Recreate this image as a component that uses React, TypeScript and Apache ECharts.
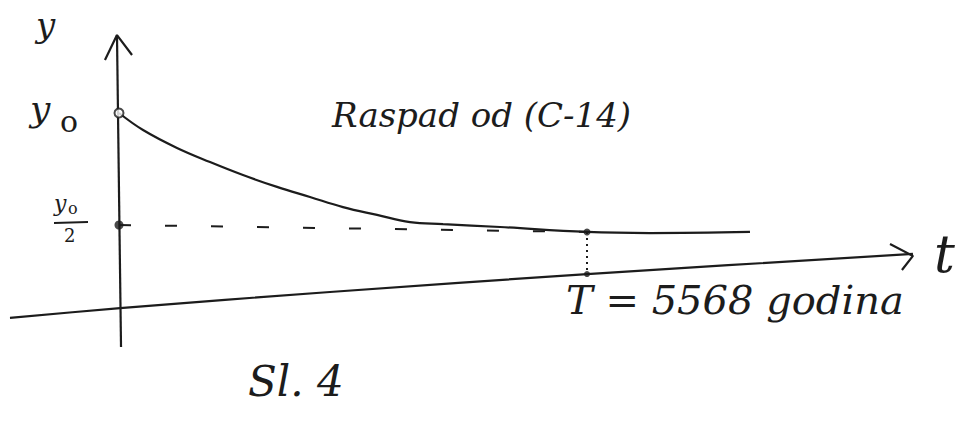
import React, { useEffect, useRef } from "react";
import * as echarts from "echarts";

// Half-life of C-14 in years
const HALF_LIFE = 5568;

// Decay curve y(t)/y0, time in years
const decayT = [0, 286, 690, 1083, 1475, 1880, 2272, 2665, 3070, 3462, 3855, 4533, 5568, 6317, 7507];
const decayY = [1.0, 0.924, 0.844, 0.781, 0.723, 0.67, 0.625, 0.58, 0.545, 0.513, 0.504, 0.491, 0.469, 0.464, 0.469];

// Hand-drawn axes (slightly slanted)
const timeAxisT = [-1297, 12, 2510, 5568, 9446];
const timeAxisY = [0.085, 0.129, 0.201, 0.281, 0.371];
const timeArrowT = [9173, 9446, 9315];
const timeArrowY = [0.415, 0.362, 0.299];
const valueAxisT = [24, -24];
const valueAxisY = [-0.045, 1.348];
const valueArrowT = [-167, -24, 155];
const valueArrowY = [1.237, 1.348, 1.259];

// Half-value guide lines
const halfLineT = [0, HALF_LIFE];
const halfLineY = [0.5, 0.469];
const dropLineT = [HALF_LIFE, HALF_LIFE];
const dropLineY = [0.469, 0.277];

const zip = (a: number[], b: number[]) => a.map((v, i) => [v, b[i]]);

const W = 965;
const H = 421;
// Pixel placement of the origin, of t = T, and of y = y0
const ORIGIN_X = 119;
const T_X = 587;
const Y0_Y = 113;
const HALF_Y = 225;

const INK = "#1c1c1c";
const FONT = "DejaVu Serif";

export default function App() {
  const ref = useRef<HTMLDivElement>(null);

  useEffect(() => {
    if (!ref.current) return;
    const chart = echarts.init(ref.current, undefined, { renderer: "svg" });

    // The plot spans the whole canvas; axis ranges are chosen so the
    // origin and the half-life land where the sketch puts them.
    const yearsPerPx = HALF_LIFE / (T_X - ORIGIN_X);
    const xMin = -ORIGIN_X * yearsPerPx;
    const xMax = (W - ORIGIN_X) * yearsPerPx;
    const unitPerPx = 0.5 / (HALF_Y - Y0_Y);
    const zeroY = Y0_Y + 1 / unitPerPx;
    const yMax = zeroY * unitPerPx;
    const yMin = -(H - zeroY) * unitPerPx;

    const lineSeries = (data: number[][], extra: any = {}) => ({
      type: "line",
      data,
      symbol: "none",
      silent: true,
      lineStyle: { color: INK, width: 2.2, ...(extra.lineStyle || {}) },
      smooth: extra.smooth ?? false,
      z: extra.z ?? 2,
    });

    chart.setOption({
      animation: false,
      backgroundColor: "#ffffff",
      grid: { left: 0, right: 0, top: 0, bottom: 0 },
      xAxis: { type: "value", min: xMin, max: xMax, show: false },
      yAxis: { type: "value", min: yMin, max: yMax, show: false },
      series: [
        lineSeries(zip(timeAxisT, timeAxisY), { smooth: 0.3 }),
        lineSeries(zip(timeArrowT, timeArrowY)),
        lineSeries(zip(valueAxisT, valueAxisY)),
        lineSeries(zip(valueArrowT, valueArrowY)),
        lineSeries(zip(decayT, decayY), { smooth: 0.4, z: 3 }),
        lineSeries(zip(halfLineT, halfLineY), {
          lineStyle: { type: [12, 34], width: 2 },
        }),
        lineSeries(zip(dropLineT, dropLineY), {
          lineStyle: { type: [2, 4], width: 2 },
        }),
        {
          type: "scatter",
          data: [[0, 1]],
          symbol: "circle",
          symbolSize: 9,
          itemStyle: { color: "#ffffff", borderColor: INK, borderWidth: 2 },
          z: 5,
        },
        {
          type: "scatter",
          data: [
            { value: [0, 0.5], symbolSize: 9 },
            { value: [HALF_LIFE, 0.469], symbolSize: 7 },
            { value: [HALF_LIFE, 0.281], symbolSize: 6 },
          ],
          symbol: "circle",
          itemStyle: { color: INK },
          z: 5,
        },
      ],
      graphic: [
        { type: "text", left: 36, top: 8, style: { text: "y", font: `italic 34px ${FONT}`, fill: INK } },
        { type: "text", left: 30, top: 90, style: { text: "y", font: `italic 36px ${FONT}`, fill: INK } },
        { type: "text", left: 60, top: 106, style: { text: "o", font: `30px ${FONT}`, fill: INK } },
        { type: "text", left: 54, top: 192, style: { text: "y", font: `italic 22px ${FONT}`, fill: INK } },
        { type: "text", left: 68, top: 200, style: { text: "o", font: `16px ${FONT}`, fill: INK } },
        { type: "line", shape: { x1: 54, y1: 223, x2: 88, y2: 222 }, style: { stroke: INK, lineWidth: 2 } },
        { type: "text", left: 64, top: 226, style: { text: "2", font: `18px ${FONT}`, fill: INK } },
        { type: "text", left: 332, top: 98, style: { text: "Raspad od (C-14)", font: `italic 34px ${FONT}`, fill: INK } },
        { type: "text", left: 934, top: 228, style: { text: "t", font: `italic 52px ${FONT}`, fill: INK } },
        { type: "text", left: 566, top: 280, style: { text: "T = 5568 godina", font: `italic 40px ${FONT}`, fill: INK } },
        { type: "text", left: 248, top: 360, style: { text: "Sl. 4", font: `italic 42px ${FONT}`, fill: INK } },
      ],
    });

    return () => chart.dispose();
  }, []);

  return (
    <div
      ref={ref}
      style={{ position: "fixed", left: 0, top: 0, width: W, height: H }}
    />
  );
}
